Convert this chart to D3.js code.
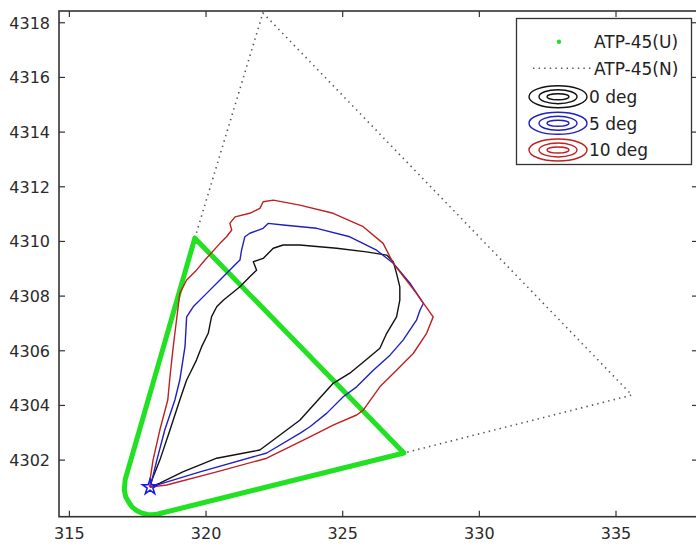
<!DOCTYPE html>
<html><head><meta charset="utf-8">
<script src="https://cdn.jsdelivr.net/npm/d3@7/dist/d3.min.js"></script>
<style>html,body{margin:0;padding:0;background:#fff;}svg{display:block;font-family:"DejaVu Sans",sans-serif;}</style>
</head><body><svg id="c" width="696" height="547"></svg>
<script>
// ---- data ----
const xTicks = [315, 320, 325, 330, 335];
const yTicks = [4302, 4304, 4306, 4308, 4310, 4312, 4314, 4316, 4318];
const releasePoint = [317.95, 4301.01];
// ATP-45 (U): green hazard area (estimated outline)
const atpU = [[319.59,4310.12],[317.04,4301.28],[317.01,4300.90],[317.06,4300.66],[317.18,4300.45],[317.29,4300.29],
  [317.47,4300.15],[317.66,4300.06],[317.85,4300.01],[318.05,4300.00],[318.24,4300.03],[327.24,4302.26],[319.59,4310.12]];
// ATP-45 (N): dotted
const atpN = [[319.59,4310.12],[322.08,4318.36],[335.58,4304.38],[327.24,4302.26]];
// contours
const deg0 = [[317.95,4301.01],[318.02,4301.27],[318.31,4302.00],[318.68,4303.10],[319.04,4304.20],[319.29,4304.93],[319.41,4305.17],
  [319.65,4305.66],[319.84,4306.15],[320.08,4306.64],[320.20,4307.24],[320.39,4307.61],[320.63,4307.85],[321.24,4308.34],[321.60,4308.71],
  [321.85,4308.95],[321.73,4309.26],[322.09,4309.38],[322.46,4309.75],[322.82,4309.87],[323.43,4309.87],[324.78,4309.75],[325.87,4309.62],
  [326.61,4309.50],[326.85,4309.26],[326.97,4308.83],[327.09,4308.34],[327.09,4307.85],[326.97,4307.24],[326.61,4306.64],[326.36,4306.09],
  [325.99,4305.78],[325.26,4305.18],[324.65,4304.81],[323.43,4303.46],[321.97,4302.37],[320.39,4302.07],[319.15,4301.57],[318.31,4301.16],[317.95,4301.01]];
const deg5 = [[317.95,4301.01],[318.02,4301.27],[318.20,4302.00],[318.49,4303.10],[318.86,4304.20],[319.04,4304.93],[319.23,4306.15],
  [319.29,4307.24],[319.53,4307.61],[320.02,4308.10],[320.51,4308.59],[320.99,4309.07],[321.24,4309.32],[321.30,4309.68],[321.42,4310.17],
  [321.60,4310.30],[322.09,4310.48],[322.27,4310.66],[322.82,4310.60],[324.05,4310.48],[325.26,4310.17],[326.24,4309.68],[326.85,4309.20],
  [327.46,4308.47],[327.95,4307.73],[327.83,4307.49],[327.70,4307.12],[327.21,4306.39],[326.73,4305.84],[326.12,4305.29],[325.51,4304.68],
  [325.02,4304.32],[324.41,4303.71],[323.80,4303.22],[323.43,4302.98],[322.22,4302.26],[319.78,4301.57],[318.31,4301.12],[317.95,4301.01]];
const deg10 = [[317.95,4301.01],[317.95,4301.27],[318.06,4302.00],[318.31,4303.10],[318.60,4304.20],[318.68,4305.05],[318.80,4306.15],
  [318.86,4306.64],[319.04,4308.10],[319.29,4308.59],[319.65,4308.95],[319.96,4309.32],[320.51,4309.93],[320.75,4310.17],[320.94,4310.42],
  [320.87,4310.66],[321.06,4310.90],[321.60,4311.03],[321.97,4311.21],[322.09,4311.45],[322.46,4311.51],[323.43,4311.33],[324.65,4311.03],
  [325.75,4310.54],[326.48,4309.93],[326.85,4309.20],[327.70,4308.10],[328.31,4307.24],[328.07,4306.64],[327.58,4305.90],[326.97,4305.29],
  [326.36,4304.68],[325.75,4303.83],[325.51,4303.65],[324.65,4303.28],[323.80,4302.85],[323.43,4302.67],[322.22,4302.07],[320.39,4301.57],
  [318.56,4301.09],[317.95,4301.01]];
const legendLabels = ["ATP-45(U)", "ATP-45(N)", "0 deg", "5 deg", "10 deg"];
const contourColors = ["#111111", "#2020c0", "#c02020"];

// ---- chart ----
const svg = d3.select("#c");
const L = 59, R = 698, T = 11, B = 516.7;
const x = d3.scaleLinear().domain([314.62, 338.0]).range([L, R]);
const y = d3.scaleLinear().domain([4299.93, 4318.43]).range([B, T]);

svg.append("defs").append("clipPath").attr("id","clip")
  .append("rect").attr("x",L).attr("y",T).attr("width",R-L).attr("height",B-T);

const line = d3.line().x(d=>x(d[0])).y(d=>y(d[1]));
const g = svg.append("g").attr("clip-path","url(#clip)");

g.append("path").attr("d", line(atpN)).attr("fill","none")
  .attr("stroke","#555").attr("stroke-width",1.6).attr("stroke-dasharray","1.4,4.2");
g.append("path").attr("d", line(atpU)).attr("fill","none")
  .attr("stroke","#22e022").attr("stroke-width",5).attr("stroke-linejoin","round").attr("stroke-linecap","round");
[deg0, deg5, deg10].forEach((d,i)=>{
  g.append("path").attr("d", line(d)).attr("fill","none")
    .attr("stroke",contourColors[i]).attr("stroke-width",1.4).attr("stroke-linejoin","round");
});
g.append("path").attr("d", d3.symbol().type(d3.symbolStar).size(70)())
  .attr("transform",`translate(${x(releasePoint[0])},${y(releasePoint[1])})`)
  .attr("fill","none").attr("stroke","#1a1aee").attr("stroke-width",1.6);

// frame & ticks
svg.append("rect").attr("x",L).attr("y",T).attr("width",R-L).attr("height",B-T)
  .attr("fill","none").attr("stroke","#333").attr("stroke-width",1.6);
const tl = 6;
xTicks.forEach(v=>{
  svg.append("line").attr("x1",x(v)).attr("x2",x(v)).attr("y1",B).attr("y2",B-tl).attr("stroke","#333").attr("stroke-width",1.2);
  svg.append("line").attr("x1",x(v)).attr("x2",x(v)).attr("y1",T).attr("y2",T+tl).attr("stroke","#333").attr("stroke-width",1.2);
  svg.append("text").attr("x",x(v)).attr("y",539).attr("text-anchor","middle")
    .attr("font-size",16).attr("fill","#2a2a2a").text(v);
});
yTicks.forEach(v=>{
  svg.append("line").attr("x1",L).attr("x2",L+tl).attr("y1",y(v)).attr("y2",y(v)).attr("stroke","#333").attr("stroke-width",1.2);
  svg.append("line").attr("x1",R).attr("x2",R-tl).attr("y1",y(v)).attr("y2",y(v)).attr("stroke","#333").attr("stroke-width",1.2);
  svg.append("text").attr("x",50).attr("y",y(v)+6).attr("text-anchor","end")
    .attr("font-size",16).attr("fill","#2a2a2a").text(v);
});

// legend
const lg = svg.append("g");
lg.append("rect").attr("x",516.5).attr("y",18.5).attr("width",175).attr("height",146)
  .attr("fill","#fff").attr("stroke","#333").attr("stroke-width",1.3);
const rowY = [41.7, 68.3, 96.7, 123.3, 150];
lg.append("circle").attr("cx",559).attr("cy",rowY[0]).attr("r",2.2).attr("fill","#22e022");
lg.append("line").attr("x1",533).attr("x2",592).attr("y1",rowY[1]).attr("y2",rowY[1])
  .attr("stroke","#555").attr("stroke-width",1.4).attr("stroke-dasharray","1.4,4.2");
[0,1,2].forEach(i=>{
  const cy = rowY[2+i];
  [[29,11],[19,7],[11,3]].forEach(r=>{
    lg.append("ellipse").attr("cx",558).attr("cy",cy).attr("rx",r[0]).attr("ry",r[1])
      .attr("fill","none").attr("stroke",contourColors[i]).attr("stroke-width",1.4);
  });
});
legendLabels.forEach((t,i)=>{
  lg.append("text").attr("x", i<2 ? 594 : 589).attr("y", rowY[i]+6.3)
    .attr("font-size",17).attr("fill","#222").text(t);
});
</script>
</body></html>
